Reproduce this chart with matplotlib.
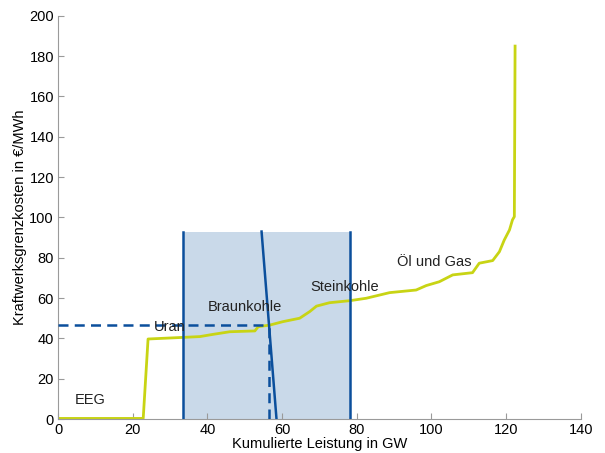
import matplotlib
matplotlib.use("Agg")
import matplotlib.pyplot as plt

plt.rcParams['font.family'] = ['Liberation Sans', 'DejaVu Sans']

# Merit order curve (cumulative capacity GW, marginal cost EUR/MWh)
merit_x = [0, 22.8, 24.1, 33.5, 38.0, 41.5, 46.0, 52.7, 53.6, 56.7, 60.2, 64.7, 67.4,
           69.2, 72.7, 78.1, 82.5, 88.8, 95.9, 98.6, 102.1, 105.7, 111.0, 112.8,
           116.4, 118.2, 119.5, 120.9, 121.7, 122.2, 122.4]
merit_y = [0.3, 0.3, 39.7, 40.5, 40.9, 42.0, 43.3, 43.7, 45.8, 46.6, 48.3, 50.0, 53.3,
           56.0, 57.7, 58.7, 59.9, 62.7, 64.0, 66.2, 68.1, 71.5, 72.6, 77.3,
           78.6, 83.0, 88.8, 93.8, 98.8, 100.4, 185.0]

# Shaded range and demand line
band_x = [33.5, 78.1]
band_top = 93.0
demand_x = [54.5, 58.5]
demand_y = [93.0, 0.0]
price = 46.5
quantity = 56.4

labels = ["EEG", "Uran", "Braunkohle", "Steinkohle", "Öl und Gas"]
label_x = [8.6, 30.0, 50.0, 76.7, 100.8]
label_y = [9.4, 45.8, 55.7, 65.7, 77.8]

yellow = '#c8d414'
blue = '#0b4f9c'
shade = '#c9d9e9'
gray = '#9a9a9a'

fig = plt.figure(figsize=(6.05, 4.53), dpi=100)
ax = fig.add_axes([0.096, 0.075, 0.864, 0.89])

ax.fill_between(band_x, 0, band_top, color=shade, zorder=1, linewidth=0)
for bx in band_x:
    ax.plot([bx, bx], [0, band_top], color=blue, lw=1.8, zorder=3)
ax.plot(demand_x, demand_y, color=blue, lw=1.8, zorder=3)
ax.plot([0, quantity], [price, price], color=blue, lw=1.8, ls=(0, (4, 2.5)), zorder=3)
ax.plot([quantity, quantity], [0, price], color=blue, lw=1.8, ls=(0, (4, 2.5)), zorder=3)
ax.plot(merit_x, merit_y, color=yellow, lw=2.0, zorder=2)

for t, x, y in zip(labels, label_x, label_y):
    ax.text(x, y, t, ha='center', va='center', fontsize=10.5, color='#222222', zorder=4)

ax.set_xlim(0, 140)
ax.set_ylim(0, 200)
ax.set_xticks(range(0, 141, 20))
ax.set_yticks(range(0, 201, 20))
ax.spines['top'].set_visible(False)
ax.spines['right'].set_visible(False)
for s in ['left', 'bottom']:
    ax.spines[s].set_color(gray)
ax.tick_params(direction='in', length=4, color=gray, labelsize=10.5, pad=3)
ax.set_xlabel('Kumulierte Leistung in GW', fontsize=10.5, labelpad=0)
ax.set_ylabel('Kraftwerksgrenzkosten in €/MWh', fontsize=10.5, labelpad=2)

fig.savefig('out.png', dpi=100)
